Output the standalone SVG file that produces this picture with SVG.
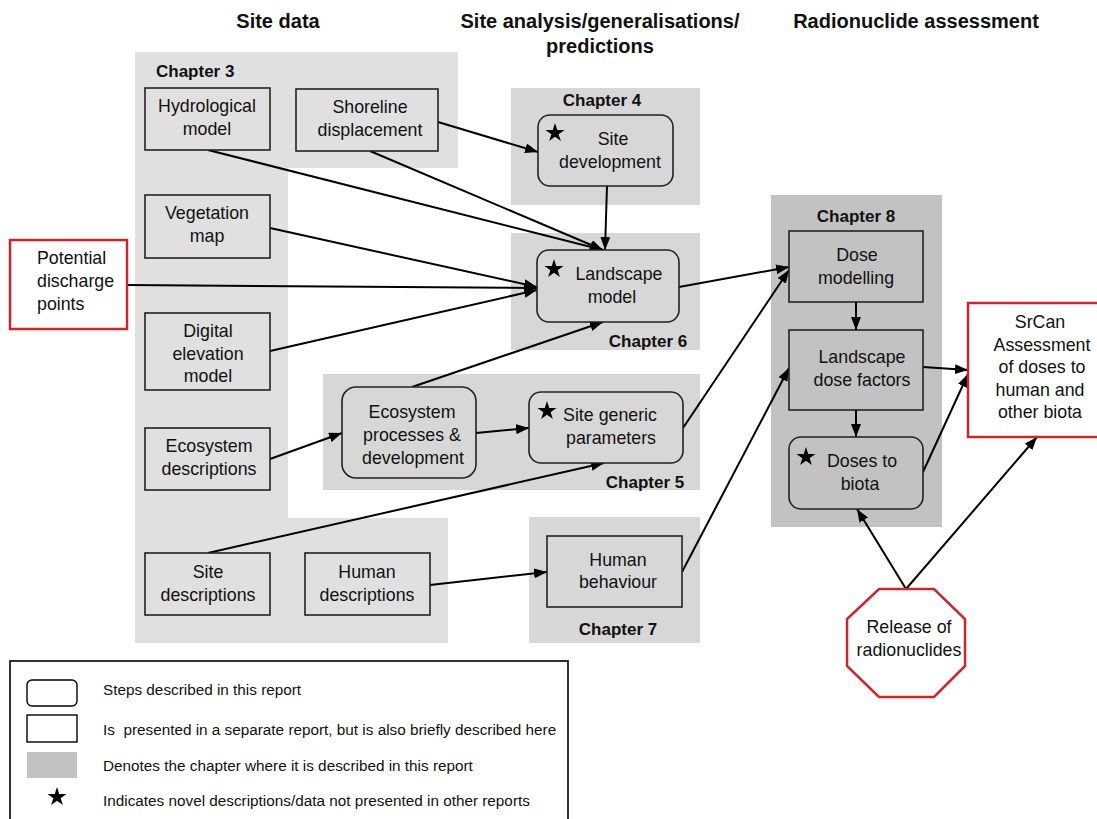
<svg xmlns="http://www.w3.org/2000/svg" width="1097" height="819" viewBox="0 0 1097 819">
  <style>
    text { font-family: "Liberation Sans", Arial, sans-serif; fill: #111; }
    .hdr { font-size: 20px; font-weight: bold; text-anchor: middle; }
    .chap { font-size: 17px; font-weight: bold; }
    .mid { text-anchor: middle; }
    .lbl { font-size: 17.8px; text-anchor: middle; }
    .lft { font-size: 17.8px; text-anchor: start; }
    .leg { font-size: 15.3px; }
    .box { stroke: #222; stroke-width: 1.6; }
    .c3 { fill: #e0e0e0; }
    .c4 { fill: #d7d7d7; }
    .c8 { fill: #c2c2c2; }
    .red { fill: #fff; stroke: #c9272f; stroke-width: 2.5; }
    .conn line { stroke: #000; stroke-width: 2; marker-end: url(#arrow); }
  </style>
  <defs>
    <marker id="arrow" markerUnits="userSpaceOnUse" markerWidth="14" markerHeight="10" refX="13" refY="5" orient="auto">
      <path d="M0,0 L13,5 L0,10 z" fill="#000"/>
    </marker>
    <polygon id="star" points="0,-10 2.25,-3.09 9.51,-3.09 3.63,1.18 5.88,8.09 0,3.82 -5.88,8.09 -3.63,1.18 -9.51,-3.09 -2.25,-3.09" fill="#000"/>
  </defs>

  <rect width="1097" height="819" fill="#fff"/>

  <!-- column headings -->
  <g id="headings">
    <text class="hdr" x="278" y="28">Site data</text>
    <text class="hdr" x="600" y="28">Site analysis/generalisations/</text>
    <text class="hdr" x="600" y="53">predictions</text>
    <text class="hdr" x="916" y="28">Radionuclide assessment</text>
  </g>

  <!-- chapter areas -->
  <g id="chapters">
    <polygon class="c3" points="135,52 458,52 458,168 288,168 288,518 448,518 448,643 135,643"/>
    <text class="chap" x="156" y="77">Chapter 3</text>
    <rect class="c4" x="511" y="88" width="189" height="117"/>
    <text class="chap mid" x="602" y="106">Chapter 4</text>
    <rect class="c4" x="511" y="233" width="189" height="117"/>
    <text class="chap mid" x="648" y="347">Chapter 6</text>
    <rect class="c4" x="323" y="374" width="377" height="116"/>
    <text class="chap mid" x="645" y="488">Chapter 5</text>
    <rect class="c4" x="529" y="517" width="171" height="126"/>
    <text class="chap mid" x="618" y="635">Chapter 7</text>
    <rect class="c8" x="771" y="195" width="171" height="332"/>
    <text class="chap mid" x="856" y="222">Chapter 8</text>
  </g>

  <!-- connectors -->
  <g id="connectors" class="conn">
    <line x1="438" y1="122" x2="538" y2="152"/>
    <line x1="208" y1="150" x2="603" y2="250"/>
    <line x1="370" y1="151" x2="603" y2="250"/>
    <line x1="607" y1="186" x2="605" y2="250"/>
    <line x1="270" y1="228" x2="537" y2="287"/>
    <line x1="127" y1="285" x2="537" y2="288"/>
    <line x1="270" y1="351" x2="537" y2="290"/>
    <line x1="412" y1="387" x2="603" y2="322"/>
    <line x1="270" y1="459" x2="342" y2="433"/>
    <line x1="476" y1="433" x2="529" y2="428"/>
    <line x1="208" y1="553" x2="604" y2="463"/>
    <line x1="430" y1="585" x2="547" y2="572"/>
    <line x1="679" y1="287" x2="789" y2="267"/>
    <line x1="683" y1="428" x2="789" y2="270"/>
    <line x1="682" y1="572" x2="789" y2="368"/>
    <line x1="856" y1="302" x2="856" y2="330"/>
    <line x1="856" y1="410" x2="856" y2="437"/>
    <line x1="923" y1="367" x2="968" y2="370"/>
    <line x1="923" y1="472" x2="968" y2="374"/>
    <line x1="906" y1="589" x2="857" y2="509"/>
    <line x1="906" y1="589" x2="1037" y2="437"/>
  </g>

  <!-- site data nodes -->
  <g id="hydrological-model">
    <rect class="box c3" x="145" y="88" width="125" height="62"/>
    <text class="lbl" x="207" y="112">Hydrological</text>
    <text class="lbl" x="207" y="135">model</text>
  </g>
  <g id="shoreline-displacement">
    <rect class="box c3" x="296" y="89" width="142" height="62"/>
    <text class="lbl" x="370" y="113">Shoreline</text>
    <text class="lbl" x="370" y="136">displacement</text>
  </g>
  <g id="vegetation-map">
    <rect class="box c3" x="145" y="195" width="125" height="63"/>
    <text class="lbl" x="207" y="219">Vegetation</text>
    <text class="lbl" x="207" y="242">map</text>
  </g>
  <g id="digital-elevation-model">
    <rect class="box c3" x="145" y="313" width="125" height="77"/>
    <text class="lbl" x="208" y="337">Digital</text>
    <text class="lbl" x="208" y="360">elevation</text>
    <text class="lbl" x="208" y="382">model</text>
  </g>
  <g id="ecosystem-descriptions">
    <rect class="box c3" x="145" y="428" width="125" height="62"/>
    <text class="lbl" x="209" y="452">Ecosystem</text>
    <text class="lbl" x="209" y="475">descriptions</text>
  </g>
  <g id="site-descriptions">
    <rect class="box c3" x="145" y="553" width="125" height="62"/>
    <text class="lbl" x="208" y="578">Site</text>
    <text class="lbl" x="208" y="601">descriptions</text>
  </g>
  <g id="human-descriptions">
    <rect class="box c3" x="305" y="553" width="125" height="62"/>
    <text class="lbl" x="367" y="578">Human</text>
    <text class="lbl" x="367" y="601">descriptions</text>
  </g>
  <g id="potential-discharge-points">
    <rect class="red" x="10" y="240" width="117" height="89"/>
    <text class="lft" x="37" y="264">Potential</text>
    <text class="lft" x="37" y="287">discharge</text>
    <text class="lft" x="37" y="310">points</text>
  </g>

  <!-- analysis nodes -->
  <g id="site-development">
    <rect class="box c4" x="538" y="115" width="135" height="71" rx="12"/>
    <use href="#star" x="555" y="133"/>
    <text class="lbl" x="613" y="145">Site</text>
    <text class="lbl" x="610" y="168">development</text>
  </g>
  <g id="landscape-model">
    <rect class="box c4" x="537" y="250" width="142" height="72" rx="12"/>
    <use href="#star" x="554" y="269"/>
    <text class="lbl" x="619" y="280">Landscape</text>
    <text class="lbl" x="612" y="303">model</text>
  </g>
  <g id="ecosystem-processes">
    <rect class="box c4" x="342" y="387" width="134" height="91" rx="14"/>
    <text class="lbl" x="412" y="418">Ecosystem</text>
    <text class="lbl" x="412" y="441">processes &amp;</text>
    <text class="lbl" x="413" y="464">development</text>
  </g>
  <g id="site-generic-parameters">
    <rect class="box c4" x="529" y="392" width="154" height="71" rx="12"/>
    <use href="#star" x="547" y="411"/>
    <text class="lbl" x="610" y="421">Site generic</text>
    <text class="lbl" x="611" y="444">parameters</text>
  </g>
  <g id="human-behaviour">
    <rect class="box c4" x="547" y="536" width="135" height="71"/>
    <text class="lbl" x="618" y="566">Human</text>
    <text class="lbl" x="618" y="588">behaviour</text>
  </g>

  <!-- assessment nodes -->
  <g id="dose-modelling">
    <rect class="box c8" x="789" y="231" width="134" height="71"/>
    <text class="lbl" x="857" y="261">Dose</text>
    <text class="lbl" x="856" y="284">modelling</text>
  </g>
  <g id="landscape-dose-factors">
    <rect class="box c8" x="789" y="330" width="134" height="80"/>
    <text class="lbl" x="862" y="363">Landscape</text>
    <text class="lbl" x="862" y="386">dose factors</text>
  </g>
  <g id="doses-to-biota">
    <rect class="box c8" x="789" y="437" width="134" height="72" rx="12"/>
    <use href="#star" x="806" y="457"/>
    <text class="lbl" x="862" y="467">Doses to</text>
    <text class="lbl" x="860" y="490">biota</text>
  </g>
  <g id="srcan-assessment">
    <rect class="red" x="968" y="303" width="135" height="134"/>
    <text class="lbl" x="1040" y="328">SrCan</text>
    <text class="lbl" x="1042" y="351">Assessment</text>
    <text class="lbl" x="1042" y="373">of doses to</text>
    <text class="lbl" x="1040" y="396">human and</text>
    <text class="lbl" x="1040" y="418">other biota</text>
  </g>
  <g id="release-of-radionuclides">
    <polygon class="red" points="879,589 934,589 965,619 965,666 934,697 879,697 847,666 847,619"/>
    <text class="lbl" x="909" y="633">Release of</text>
    <text class="lbl" x="909" y="656">radionuclides</text>
  </g>

  <!-- key -->
  <g id="legend">
    <rect x="10" y="661" width="558" height="170" fill="#fff" stroke="#000" stroke-width="1.6"/>
    <rect x="27" y="680" width="50" height="26" rx="5" fill="#fff" stroke="#000" stroke-width="1.4"/>
    <text class="leg" x="103" y="695">Steps described in this report</text>
    <rect x="27" y="715" width="50" height="27" fill="#fff" stroke="#000" stroke-width="1.4"/>
    <text class="leg" x="103" y="735" xml:space="preserve">Is  presented in a separate report, but is also briefly described here</text>
    <rect x="27" y="752" width="50" height="26" fill="#c2c2c2"/>
    <text class="leg" x="103" y="771">Denotes the chapter where it is described in this report</text>
    <use href="#star" x="57" y="797"/>
    <text class="leg" x="103" y="806">Indicates novel descriptions/data not presented in other reports</text>
  </g>
</svg>
